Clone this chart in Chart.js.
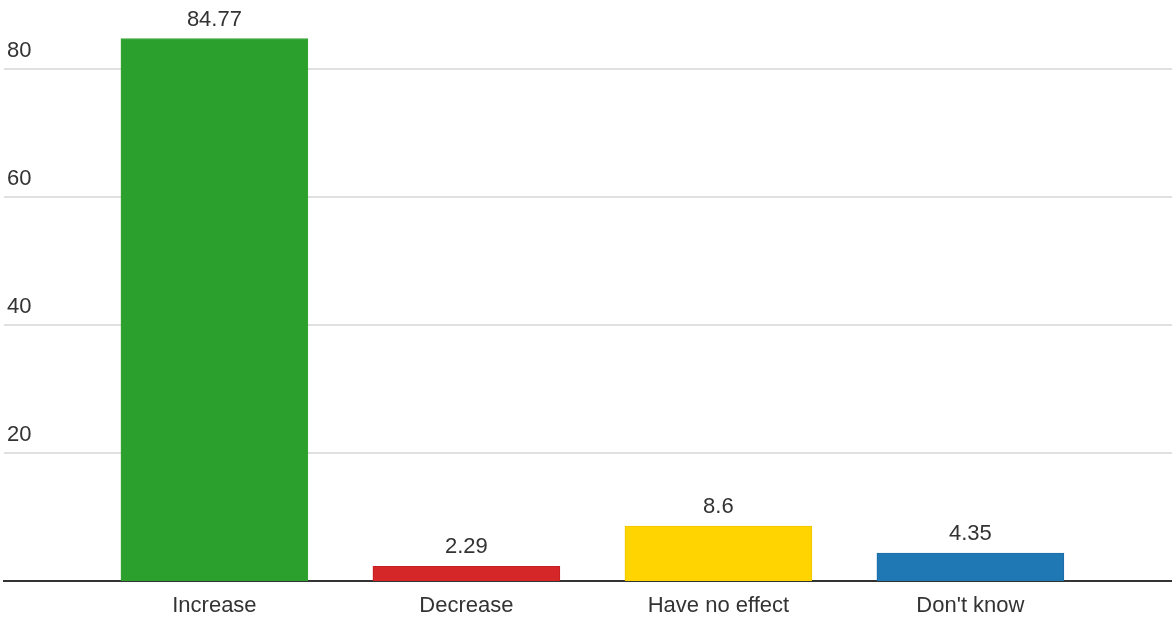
<!DOCTYPE html>
<html>
<head>
<meta charset="utf-8">
<script src="https://cdn.jsdelivr.net/npm/chart.js@4/dist/chart.umd.min.js"></script>
<style>
  html, body { margin: 0; padding: 0; background: #fff; }
  #wrap { width: 1172px; height: 617px; position: relative; }
</style>
</head>
<body>
<div id="wrap"><canvas id="c"></canvas></div>
<script>
// Survey answers and their shares (percent)
const categories = ["Increase", "Decrease", "Have no effect", "Don't know"];
const values = [84.77, 2.29, 8.6, 4.35];
const yTicks = [20, 40, 60, 80];

const fillColors = ["#2ca02c", "#d62728", "#ffd400", "#1f77b4"];
const edgeColors = ["#35a535", "#c41d22", "#efc600", "#1c6ca5"];

const FONT = "'Liberation Sans', Arial, Helvetica, sans-serif";

// Writes each bar's value just above its top edge
const valueLabels = {
  id: 'valueLabels',
  afterDatasetsDraw(chart) {
    const ctx = chart.ctx;
    const meta = chart.getDatasetMeta(0);
    ctx.save();
    ctx.font = "22px " + FONT;
    ctx.fillStyle = "#333";
    ctx.textAlign = "center";
    ctx.textBaseline = "middle";
    meta.data.forEach((bar, i) => {
      ctx.fillText(String(values[i]), bar.x, bar.y - 19);
    });
    ctx.restore();
  }
};

new Chart(document.getElementById('c'), {
  type: 'bar',
  data: {
    datasets: [{
      data: categories.map((c, i) => ({ x: i, y: values[i] })),
      backgroundColor: fillColors,
      borderColor: edgeColors,
      borderWidth: 1,
      barThickness: 187
    }]
  },
  options: {
    responsive: true,
    maintainAspectRatio: false,
    animation: false,
    layout: { padding: { left: 4, right: 0, top: 5, bottom: 0 } },
    plugins: { legend: { display: false }, tooltip: { enabled: false } },
    scales: {
      x: {
        type: 'linear',
        offset: false,
        min: -0.835,
        max: 3.80,
        afterBuildTicks: s => { s.ticks = categories.map((_, i) => ({ value: i })); },
        afterFit: s => { s.height = 36; s.paddingLeft = 0; s.paddingRight = 0; },
        grid: { display: false, drawTicks: false },
        border: { display: true, color: "#333", width: 2 },
        ticks: {
          autoSkip: false,
          maxRotation: 0,
          padding: 12,
          color: "#333",
          font: { family: FONT, size: 22 },
          callback: v => categories[v]
        }
      },
      y: {
        min: 0,
        max: 90,
        afterBuildTicks: s => { s.ticks = yTicks.map(v => ({ value: v })); },
        afterFit: s => { s.width = 0; s.paddingTop = 0; s.paddingBottom = 0; },
        grid: { color: "#e0e0e0", lineWidth: 2, drawTicks: false },
        border: { display: false },
        ticks: {
          mirror: true,
          padding: 3,
          labelOffset: -18,
          color: "#333",
          font: { family: FONT, size: 22 }
        }
      }
    }
  },
  plugins: [valueLabels]
});
</script>
</body>
</html>
